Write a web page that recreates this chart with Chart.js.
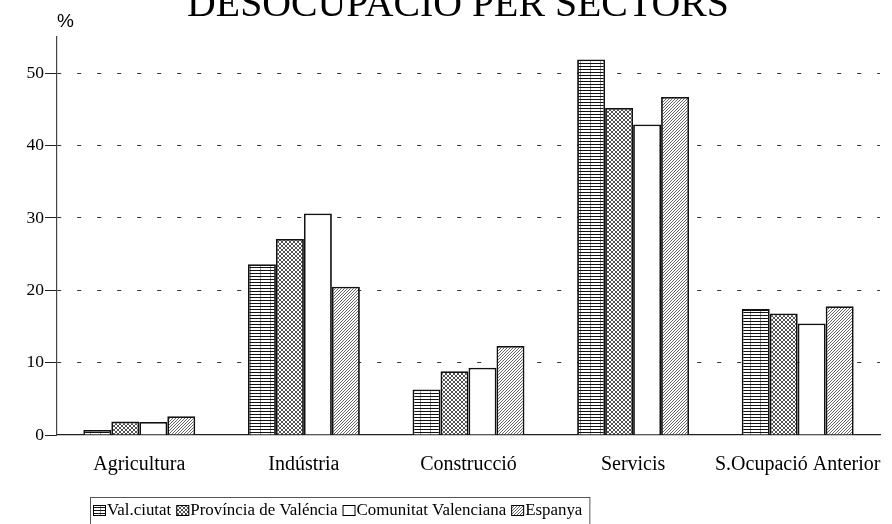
<!DOCTYPE html>
<html>
<head>
<meta charset="utf-8">
<script src="https://cdn.jsdelivr.net/npm/chart.js@4"></script>
<style>
  html, body { margin: 0; padding: 0; background: #fff; }
  #wrap { width: 892px; height: 524px; }
</style>
</head>
<body>
<div id="wrap"><canvas id="myChartDesocupacio" width="892" height="524"></canvas></div>
<script>
// dades
var categories = ['Agricultura', 'Indústria', 'Construcció', 'Servicis', 'S.Ocupació Anterior'];
var seriesNames = ['Val.ciutat', 'Província de Valéncia', 'Comunitat Valenciana', 'Espanya'];
var valCiutat = [0.7, 23.6, 6.3, 51.9, 17.4];
var provincia = [1.85, 27.1, 8.8, 45.2, 16.8];
var comunitat = [1.8, 30.6, 9.3, 42.9, 15.4];
var espanya = [2.6, 20.5, 12.3, 46.7, 17.8];
var yTicks = [0, 10, 20, 30, 40, 50];
var titleText = 'DESOCUPACIÓ PER SECTORS';
var unitText = '%';

// patrons de farciment
function makePattern(w, h, draw) {
    var c = document.createElement('canvas');
    c.width = w; c.height = h;
    var g = c.getContext('2d');
    g.fillStyle = '#fff';
    g.fillRect(0, 0, w, h);
    draw(g);
    return g.createPattern(c, 'repeat');
}
var patHoritzontal = makePattern(10, 3, function(g) {
    g.fillStyle = '#999';
    g.fillRect(0, 1, 1, 2);
    g.fillStyle = '#111';
    g.fillRect(0, 0, 10, 1);
});
var patQuadres = makePattern(4, 4, function(g) {
    g.fillStyle = '#555';
    [[0,0],[1,1],[2,2],[3,3],[3,0],[2,1],[1,2],[0,3]].forEach(function(p) {
        g.fillRect(p[0], p[1], 1, 1);
    });
});
var patDiagonal = makePattern(3, 3, function(g) {
    g.fillStyle = '#666';
    g.fillRect(2, 0, 1, 1);
    g.fillRect(1, 1, 1, 1);
    g.fillRect(0, 2, 1, 1);
});
var fills = [patHoritzontal, patQuadres, '#ffffff', patDiagonal];
var seriesData = [valCiutat, provincia, comunitat, espanya];

// titol i "%" dibuixats a ma (el titol esta tallat per dalt)
var titlePlugin = {
    id: 'titolTallat',
    afterDraw: function(chart) {
        var ctx = chart.ctx;
        ctx.save();
        ctx.fillStyle = '#000';
        ctx.textAlign = 'center';
        ctx.textBaseline = 'alphabetic';
        ctx.font = '39.8px "Liberation Serif", "Times New Roman", serif';
        ctx.fillText(titleText, 458, 16);
        ctx.textAlign = 'left';
        ctx.font = '19px "Liberation Sans", Arial, sans-serif';
        ctx.fillText(unitText, 57, 27);
        ctx.restore();
    }
};

// llegenda amb marc
var legendPlugin = {
    id: 'llegendaMarc',
    afterDraw: function(chart) {
        var ctx = chart.ctx;
        ctx.save();
        ctx.font = '16.9px "Liberation Serif", "Times New Roman", serif';
        ctx.textBaseline = 'middle';
        var x = 93, y = 511;
        chart.data.datasets.forEach(function(ds, i) {
            ctx.fillStyle = ds.backgroundColor;
            ctx.fillRect(x, y - 6, 13, 11);
            ctx.strokeStyle = '#000';
            ctx.lineWidth = 1;
            ctx.strokeRect(x + 0.5, y - 5.5, 12, 10);
            ctx.fillStyle = '#000';
            ctx.fillText(ds.label, x + 14, y);
            x += 14 + ctx.measureText(ds.label).width + 5;
        });
        ctx.strokeStyle = '#555';
        ctx.lineWidth = 1;
        ctx.strokeRect(90.5, 497.5, x - 88, 40);
        ctx.restore();
    }
};

var ctxBar = document.getElementById('myChartDesocupacio');
var myChart = new Chart(ctxBar, {
    type: 'bar',
    data: {
        labels: categories,
        datasets: seriesNames.map(function(name, i) {
            return {
                label: name,
                data: seriesData[i],
                backgroundColor: fills[i],
                borderColor: '#111',
                borderWidth: 1.8,
                categoryPercentage: 0.68,
                barPercentage: 1.0
            };
        })
    },
    plugins: [titlePlugin, legendPlugin],
    options: {
        responsive: false,
        animation: false,
        layout: { padding: { top: 37, right: 12, left: 0, bottom: 0 } },
        plugins: {
            legend: { display: false },
            title: { display: false },
            tooltip: { enabled: false }
        },
        scales: {
            x: {
                grid: { display: false },
                border: { display: true, color: '#222', width: 1.2 },
                ticks: {
                    color: '#000',
                    padding: 10,
                    maxRotation: 0,
                    autoSkip: false,
                    font: { family: '"Liberation Serif", "Times New Roman", serif', size: 20 }
                },
                afterFit: function(scale) {
                    scale.height = 89;
                    scale.paddingLeft = 0;
                    scale.paddingRight = 0;
                }
            },
            y: {
                min: 0,
                max: 55,
                afterBuildTicks: function(scale) {
                    scale.ticks = yTicks.map(function(v) { return { value: v }; });
                },
                grid: {
                    color: function(c) { return c.tick && c.tick.value === 0 ? 'rgba(0,0,0,0)' : '#333'; },
                    tickColor: '#222',
                    tickLength: 12,
                    lineWidth: 1
                },
                border: { display: true, color: '#444', width: 1.2, dash: [4, 16] },
                ticks: {
                    color: '#000',
                    padding: 1,
                    font: { family: '"Liberation Serif", "Times New Roman", serif', size: 17.5 }
                },
                afterFit: function(scale) { scale.width = 57; }
            }
        }
    }
});
</script>
</body>
</html>
